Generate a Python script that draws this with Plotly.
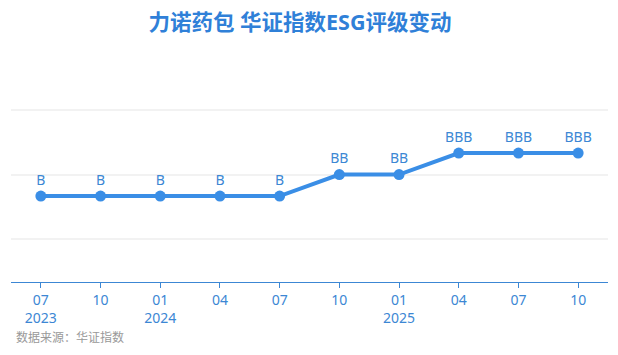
import plotly.graph_objects as go

periods = ["2023-07", "2023-10", "2024-01", "2024-04", "2024-07",
           "2024-10", "2025-01", "2025-04", "2025-07", "2025-10"]
tick_labels = ["07<br>2023", "10", "01<br>2024", "04", "07",
               "10", "01<br>2025", "04", "07", "10"]
ratings = ["B", "B", "B", "B", "B", "BB", "BB", "BBB", "BBB", "BBB"]
rating_levels = {"CCC": 0, "B": 2, "BB": 3, "BBB": 4, "A": 5, "AA": 6}
values = [rating_levels[r] for r in ratings]

blue = "#3a8ee6"
text_blue = "#3c87d4"
font_family = "Noto Sans, Noto Sans CJK SC, sans-serif"

plot_top, plot_bottom = 110, 282

def paper_y(py):
    return (plot_bottom - py) / (plot_bottom - plot_top)

fig = go.Figure()
fig.add_trace(go.Scatter(
    x=periods, y=values, mode="lines+markers+text",
    text=ratings, textposition="top center",
    textfont=dict(size=14, color=text_blue, family=font_family),
    line=dict(color=blue, width=4),
    marker=dict(color=blue, size=11),
    hoverinfo="skip", cliponaxis=False,
))

fig.update_layout(
    width=618, height=355,
    margin=dict(l=11, r=10, t=plot_top - 1, b=355 - plot_bottom),
    paper_bgcolor="white", plot_bgcolor="white",
    showlegend=False,
    font=dict(family=font_family),
    title=dict(text="<b>力诺药包 华证指数ESG评级变动</b>",
               x=300/618, xanchor="center", y=1 - 22/355, yanchor="middle",
               font=dict(size=21.5, color="#2f80d8", family=font_family)),
    xaxis=dict(type="category", categoryorder="array", categoryarray=periods,
               tickmode="array", tickvals=periods, ticktext=tick_labels,
               range=[-0.5, 9.5], showgrid=False,
               showline=True, linecolor=text_blue, linewidth=1,
               ticks="outside", ticklen=5, tickcolor=text_blue,
               tickfont=dict(size=14, color=text_blue, family=font_family),
               fixedrange=True),
    yaxis=dict(range=[-2, 6.05], tickvals=[0, 3, 6], showticklabels=False,
               showgrid=True, gridcolor="#f2f2f2", gridwidth=1.5,
               zeroline=False, showline=False, fixedrange=True),
    annotations=[dict(text="数据来源：华证指数", x=15/618 - 11/597, y=paper_y(337),
                      xref="paper", yref="paper", xanchor="left", yanchor="middle",
                      showarrow=False,
                      font=dict(size=12, color="#999999", family=font_family))],
)

fig.write_html("out.html")
